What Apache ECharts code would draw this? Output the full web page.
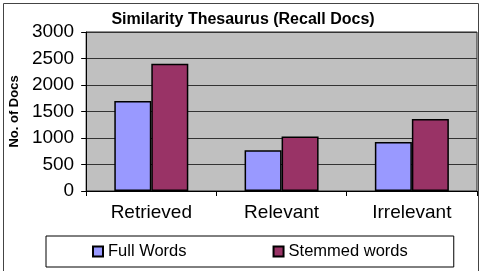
<!DOCTYPE html>
<html>
<head>
<meta charset="utf-8">
<style>
  html, body { margin: 0; padding: 0; background: #fff; }
  #chart { width: 481px; height: 271px; }
</style>
<script src="https://cdn.jsdelivr.net/npm/echarts@6/dist/echarts.min.js"></script>
</head>
<body>
<div id="chart"></div>
<script>
// data
const categories = ['Retrieved', 'Relevant', 'Irrelevant']
const fullWords = [1700, 770, 925]
const stemmedWords = [2400, 1030, 1360]
const yTicks = { min: 0, max: 3000, step: 500 }

const font = 'Liberation Sans, Arial, sans-serif'

const chart = echarts.init(document.getElementById('chart'), null, { renderer: 'canvas' })

chart.setOption({
  backgroundColor: '#fff',
  animation: false,
  textStyle: { fontFamily: font, color: '#000' },
  title: {
    text: 'Similarity Thesaurus (Recall Docs)',
    left: 238,
    textAlign: 'center',
    top: 7,
    textStyle: { fontSize: 16, fontWeight: 'bold', color: '#000', fontFamily: font }
  },
  // outer chart frame
  graphic: [{
    type: 'rect',
    shape: { x: 3.5, y: 3.5, width: 475, height: 290 },
    style: { fill: 'none', stroke: '#444', lineWidth: 1 },
    silent: true
  }],
  legend: {
    left: 46,
    top: 236,
    padding: [7, 46, 7, 46],
    borderColor: '#000',
    borderWidth: 1,
    itemWidth: 10,
    itemHeight: 10,
    itemGap: 86,
    icon: 'rect',
    textStyle: { fontSize: 16.5, color: '#000', fontFamily: font },
    data: ['Full Words', 'Stemmed words']
  },
  grid: {
    left: 83,
    right: 4,
    top: 32,
    bottom: 80,
    show: true,
    backgroundColor: '#c0c0c0',
    borderColor: '#222',
    borderWidth: 1
  },
  xAxis: {
    type: 'category',
    data: categories,
    axisLine: { lineStyle: { color: '#000' } },
    axisTick: { show: true, length: 5, lineStyle: { color: '#000' } },
    axisLabel: { fontSize: 19, color: '#000', margin: 12, fontFamily: font }
  },
  yAxis: {
    type: 'value',
    min: yTicks.min,
    max: yTicks.max,
    interval: yTicks.step,
    name: 'No. of Docs',
    nameLocation: 'middle',
    nameGap: 64,
    nameTextStyle: { fontSize: 13, fontWeight: 'bold', color: '#000', fontFamily: font },
    axisLine: { show: true, lineStyle: { color: '#000' } },
    axisTick: { show: true, length: 5, lineStyle: { color: '#000' } },
    axisLabel: { fontSize: 19, color: '#000', margin: 12, fontFamily: font, formatter: (v) => String(v) },
    splitLine: { lineStyle: { color: '#333', width: 1 } }
  },
  series: [
    {
      name: 'Full Words',
      type: 'bar',
      data: fullWords,
      barWidth: 37,
      barGap: '0%',
      itemStyle: { color: '#9999ff', borderColor: '#000', borderWidth: 1.5 }
    },
    {
      name: 'Stemmed words',
      type: 'bar',
      data: stemmedWords,
      barWidth: 37,
      itemStyle: { color: '#993366', borderColor: '#000', borderWidth: 1.5 }
    }
  ]
})
</script>
</body>
</html>
